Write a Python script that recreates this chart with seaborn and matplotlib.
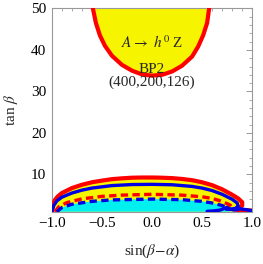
import matplotlib
matplotlib.use("Agg")
import matplotlib.pyplot as plt
import seaborn as sns
import pandas as pd
import numpy as np
from matplotlib.ticker import MultipleLocator

# Upper region boundary (A -> h0 Z excluded region)
upper_x = [-0.59, -0.56, -0.52, -0.47, -0.40, -0.30, -0.20, -0.10, 0.00, 0.10, 0.20, 0.30, 0.40, 0.46, 0.51, 0.55, 0.57]
upper_y = [50.0, 46.5, 43.5, 41.0, 38.6, 36.4, 35.0, 34.1, 33.8, 34.0, 34.8, 36.2, 38.4, 40.8, 43.5, 46.5, 50.0]

# Lower contours
red_solid_x = [-1.0, -0.99, -0.97, -0.94, -0.90, -0.80, -0.70, -0.60, -0.50, -0.40, -0.30, -0.20, -0.10, 0.00,
               0.10, 0.20, 0.30, 0.40, 0.50, 0.60, 0.70, 0.80, 0.86, 0.90, 0.90, 0.87, 0.84, 0.88, 0.94, 1.00]
red_solid_y = [1.0, 2.6, 3.8, 4.7, 5.5, 6.7, 7.5, 8.1, 8.5, 8.85, 9.05, 9.2, 9.25, 9.25,
               9.2, 9.1, 8.9, 8.6, 8.1, 7.4, 6.4, 5.1, 4.2, 3.3, 2.5, 1.9, 1.5, 1.3, 1.4, 1.2]

blue_solid_x = [-1.0, -0.98, -0.95, -0.90, -0.80, -0.70, -0.60, -0.50, -0.40, -0.20, 0.00,
                0.20, 0.40, 0.50, 0.60, 0.70, 0.80, 0.85, 0.86, 0.83, 0.78, 0.74]
blue_solid_y = [1.0, 2.5, 3.6, 4.5, 5.5, 6.2, 6.7, 7.0, 7.3, 7.55, 7.6,
                7.5, 7.1, 6.7, 6.1, 5.2, 4.0, 3.1, 2.3, 1.8, 1.6, 1.6]

blue_tail_x = [0.55, 0.62, 0.68, 0.72, 0.75, 0.78, 0.82, 0.88, 0.94, 1.00]
blue_tail_y = [1.1, 1.2, 1.4, 1.8, 2.1, 1.6, 1.4, 1.7, 1.5, 1.2]

red_dashed_x = [-0.97, -0.93, -0.85, -0.70, -0.50, -0.30, 0.00, 0.30, 0.50, 0.60, 0.70, 0.78, 0.80]
red_dashed_y = [1.0, 2.2, 3.2, 4.1, 4.7, 5.0, 5.2, 5.0, 4.6, 4.2, 3.5, 2.6, 2.0]

blue_dashed_x = [-0.95, -0.90, -0.80, -0.60, -0.40, 0.00, 0.30, 0.50, 0.60, 0.70, 0.76, 0.78]
blue_dashed_y = [1.0, 2.0, 2.8, 3.5, 3.85, 4.05, 3.9, 3.5, 3.1, 2.5, 1.9, 1.5]

x_ticks = [-1.0, -0.5, 0.0, 0.5, 1.0]
y_ticks = [10, 20, 30, 40, 50]

sns.set_style("white")
plt.rcParams['font.family'] = ['Liberation Serif', 'DejaVu Serif']
plt.rcParams['mathtext.fontset'] = 'stix'

fig = plt.figure(figsize=(2.63, 2.64), dpi=100)
ax = fig.add_axes([0.197, 0.198, 0.762, 0.770])

YEL = "#f7f400"
CYAN = "#00f0f0"
RED = "#ff0000"
BLUE = "#0000e6"

# fills
ax.fill(upper_x + [upper_x[0]], upper_y + [upper_y[0]], color=YEL, lw=0, zorder=1)
ax.fill(red_solid_x[:25] + [0.84], red_solid_y[:25] + [1.0], color=YEL, lw=0, zorder=1)
ax.fill(blue_dashed_x + [0.78], blue_dashed_y + [1.0], color=CYAN, lw=0, zorder=2)

def line(xs, ys, color, ls, lw, z):
    df = pd.DataFrame({"x": xs, "y": ys})
    sns.lineplot(data=df, x="x", y="y", sort=False, estimator=None, color=color,
                 linestyle=ls, linewidth=lw, ax=ax, zorder=z)

line(upper_x, upper_y, RED, "-", 3.0, 3)
line(red_solid_x, red_solid_y, RED, "-", 3.0, 3)
line(blue_solid_x, blue_solid_y, BLUE, "-", 2.4, 4)
line(blue_tail_x, blue_tail_y, BLUE, "-", 2.4, 4)
line(red_dashed_x, red_dashed_y, RED, (0, (2.2, 1.3)), 2.4, 4)
line(blue_dashed_x, blue_dashed_y, BLUE, (0, (2.2, 1.3)), 2.4, 5)

ax.set_xlim(-1.0, 1.0)
ax.set_ylim(1.0, 50.0)
ax.set_xticks(x_ticks)
ax.set_xticklabels([f"{v:.1f}".replace("-", "\u2212") for v in x_ticks])
ax.set_yticks(y_ticks)
ax.set_yticklabels([str(v) for v in y_ticks])
ax.xaxis.set_minor_locator(MultipleLocator(0.1))
ax.yaxis.set_minor_locator(MultipleLocator(2))
ax.tick_params(which="both", direction="in", top=True, right=True, colors="#888888",
               labelcolor="black", labelsize=11)
ax.tick_params(which="major", length=4, width=0.6, pad=4)
ax.tick_params(which="minor", length=2, width=0.5)
for s in ax.spines.values():
    s.set_color("#999999")
    s.set_linewidth(0.8)

ax.set_xlabel(r"sin($\beta$$-$$\alpha$)", fontsize=11, labelpad=9)
ax.set_ylabel(r"tan $\beta$", fontsize=11, labelpad=8)

ax.text(0.0, 41.7, r"$A$$\rightarrow$ $h^0$ Z", ha="center", va="center", fontsize=11, zorder=6)
ax.text(0.0, 35.4, "BP2", ha="center", va="center", fontsize=11, zorder=6)
ax.text(0.0, 32.2, "(400,200,126)", ha="center", va="center", fontsize=11, zorder=6)

fig.savefig("out.png", dpi=100)
